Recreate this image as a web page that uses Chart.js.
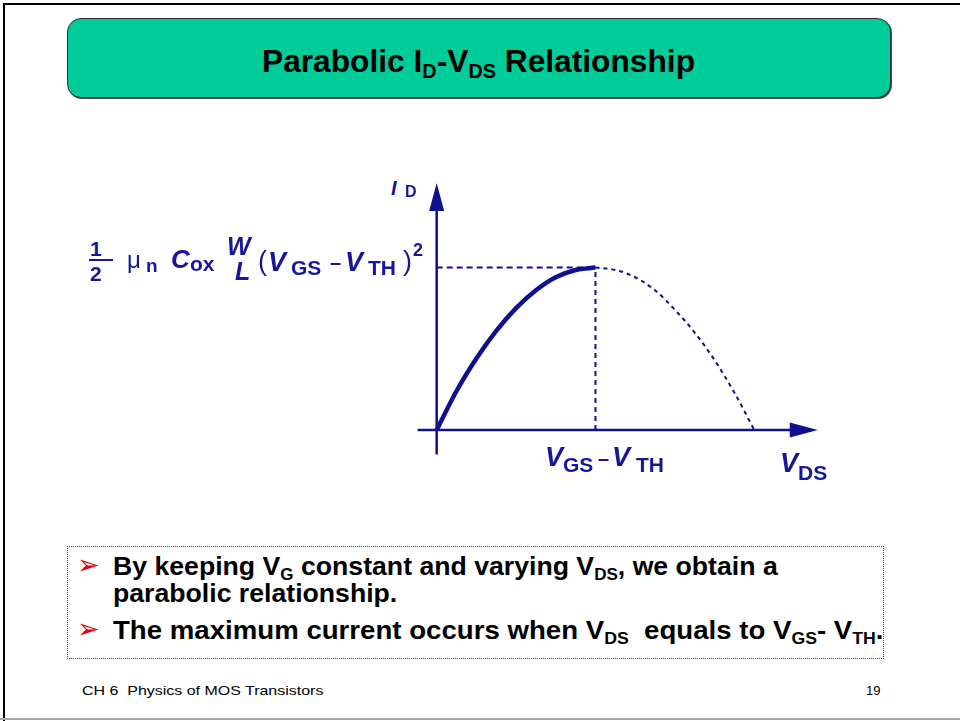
<!DOCTYPE html>
<html>
<head>
<meta charset="utf-8">
<script src="https://cdn.jsdelivr.net/npm/chart.js@4"></script>
<style>
  body { margin: 0; background: #fff; }
  #page { position: relative; width: 960px; height: 721px; overflow: hidden; font-family: "Liberation Sans", Arial, sans-serif; }
  #frameTop { position: absolute; left: 3px; top: 3px; width: 960px; height: 2px; background: #000; }
  #frameLeft { position: absolute; left: 3px; top: 3px; width: 2px; height: 721px; background: #000; }
  #frameBottom { position: absolute; left: 0; top: 718px; width: 960px; height: 2px; background: #a8a8a8; }
  #titleBox { position: absolute; left: 67px; top: 18px; width: 822px; height: 78px; background: #00cc99;
              border: 1px solid #333; border-radius: 14px; box-shadow: 1px 1px 0 #444; }
  #title { position: absolute; left: 0; top: 45px; white-space: nowrap; font-weight: bold; font-size: 32px;
           color: #000; transform-origin: 0 0; line-height: 1; }
  #title sub { font-size: 20px; vertical-align: -6px; line-height: 0; }
  #chartWrap { position: absolute; left: 400px; top: 170px; width: 440px; height: 320px; }
  .lbl { position: absolute; white-space: nowrap; color: #16169a; font-weight: bold; line-height: 1; }
  .it { font-style: italic; }
  #fracBar { position: absolute; left: 89px; top: 259px; width: 24px; height: 2px; background: #16169a; }
  #bullets { position: absolute; left: 67px; top: 546px; width: 815px; height: 111px; border: 1px dotted #444; }
  .bline { position: absolute; white-space: nowrap; font-weight: bold; font-size: 25px; color: #000; line-height: 1; transform-origin: 0 0; }
  .bline sub { font-size: 16px; vertical-align: -5px; line-height: 0; }
  .arrow { position: absolute; color: #e8000b; font-size: 27px; font-family: "DejaVu Sans", sans-serif; line-height: 1; }
  .foot { position: absolute; font-size: 13px; color: #000; white-space: nowrap; line-height: 1; transform-origin: 0 0; }
</style>
</head>
<body>
<div id="page">
  <div id="frameTop"></div><div id="frameLeft"></div><div id="frameBottom"></div>
  <div id="titleBox"></div>
  <div id="title">Parabolic I<sub>D</sub>-V<sub>DS</sub> Relationship</div>

  <div id="chartWrap"><canvas id="chart" width="440" height="320"></canvas></div>
  <div id="labels"></div>
  <div id="fracBar"></div>

  <div id="bullets"></div>
  <div class="arrow" style="left:77px; top:551px;">&#10146;</div>
  <div class="arrow" style="left:77px; top:615px;">&#10146;</div>
  <div class="bline" id="b1" style="left:113px; top:554px;">By keeping V<sub>G</sub> constant and varying V<sub>DS</sub>, we obtain a</div>
  <div class="bline" id="b2" style="left:113px; top:581px;">parabolic relationship.</div>
  <div class="bline" id="b3" style="left:113px; top:618px;">The maximum current occurs when V<sub>DS</sub>&nbsp; equals to V<sub>GS</sub>- V<sub>TH</sub>.</div>

  <div class="foot" id="f1" style="left:82px; top:684px;">CH 6&nbsp; Physics of MOS Transistors</div>
  <div class="foot" style="left:866px; top:684px;">19</div>
</div>

<script>
// I_D vs V_DS (V_DS in units of VGS-VTH, I_D normalised to its peak)
const vdsRise = [0, 0.125, 0.25, 0.375, 0.5, 0.625, 0.75, 0.875, 1.0];
const idRise  = [0, 0.24, 0.44, 0.61, 0.75, 0.86, 0.94, 0.985, 1.0];
const vdsFall = [1.0, 1.125, 1.25, 1.375, 1.5, 1.625, 1.75, 1.875, 2.0];
const idFall  = [1.0, 0.985, 0.94, 0.86, 0.74, 0.6, 0.43, 0.23, 0];

// axis extents (arrow tips)
const xAxisFrom = -0.12, xAxisTo = 2.40;
const yAxisFrom = -0.15, yAxisTo = 1.52;

const navy = '#10108c';

function toPoints(xs, ys) {
    return xs.map((x, i) => ({ x: x, y: ys[i] }));
}

const vPeak = vdsRise[vdsRise.length - 1];
const iPeak = idRise[idRise.length - 1];

// draws both axes with arrowheads, behind the curves
const axesPlugin = {
    id: 'axesArrows',
    beforeDatasetsDraw(chart) {
        const ctx = chart.ctx;
        const xs = chart.scales.x, ys = chart.scales.y;
        const x0 = xs.getPixelForValue(0), y0 = ys.getPixelForValue(0);
        const xa = xs.getPixelForValue(xAxisFrom), xb = xs.getPixelForValue(xAxisTo);
        const ya = ys.getPixelForValue(yAxisFrom), yb = ys.getPixelForValue(yAxisTo);
        ctx.save();
        ctx.strokeStyle = navy;
        ctx.fillStyle = navy;
        ctx.lineWidth = 2.5;
        ctx.beginPath();
        ctx.moveTo(xa, y0); ctx.lineTo(xb - 20, y0);
        ctx.moveTo(x0, ya); ctx.lineTo(x0, yb + 20);
        ctx.stroke();
        // x arrow
        ctx.beginPath();
        ctx.moveTo(xb, y0); ctx.lineTo(xb - 28, y0 - 7.5); ctx.lineTo(xb - 28, y0 + 7.5); ctx.closePath();
        ctx.fill();
        // y arrow
        ctx.beginPath();
        ctx.moveTo(x0, yb); ctx.lineTo(x0 - 7.5, yb + 28); ctx.lineTo(x0 + 7.5, yb + 28); ctx.closePath();
        ctx.fill();
        ctx.restore();
    }
};

new Chart(document.getElementById('chart'), {
    type: 'scatter',
    data: {
        datasets: [
            {
                data: toPoints([0, vPeak], [iPeak, iPeak]),
                showLine: true, borderColor: navy, borderWidth: 2, borderDash: [6, 4],
                pointRadius: 0
            },
            {
                data: toPoints([vPeak, vPeak], [0, iPeak]),
                showLine: true, borderColor: navy, borderWidth: 2, borderDash: [5, 4],
                pointRadius: 0
            },
            {
                data: toPoints(vdsFall, idFall),
                showLine: true, borderColor: navy, borderWidth: 2, borderDash: [4, 4],
                pointRadius: 0, cubicInterpolationMode: 'monotone'
            },
            {
                data: toPoints(vdsRise, idRise),
                showLine: true, borderColor: navy, borderWidth: 4.5,
                pointRadius: 0, cubicInterpolationMode: 'monotone', borderCapStyle: 'butt'
            }
        ]
    },
    options: {
        responsive: false,
        animation: false,
        layout: { padding: 0 },
        plugins: { legend: { display: false }, tooltip: { enabled: false } },
        scales: {
            x: { type: 'linear', min: -0.231, max: 2.540, display: false },
            y: { type: 'linear', min: -0.369, max: 1.6, display: false }
        }
    },
    plugins: [axesPlugin]
});

// text pieces placed by left edge and baseline
function put(txt, x, base, size, italic, weight) {
    const d = document.createElement('div');
    d.className = 'lbl' + (italic ? ' it' : '');
    d.textContent = txt;
    d.style.fontSize = size + 'px';
    d.style.left = x + 'px';
    d.style.top = (base - 0.8465 * size) + 'px';
    if (weight) d.style.fontWeight = weight;
    document.getElementById('labels').appendChild(d);
}

// formula at the peak level
put('1', 90, 256, 21);
put('2', 90, 281, 21);
put('\u03bc', 127, 268, 24, false, 'normal');
put('n', 146, 272, 19);
put('C', 171, 268, 26, true);
put('ox', 190, 271, 21);
put('W', 227, 255, 25, true);
put('L', 235, 280, 25, true);
put('(', 258, 271, 27, false, 'normal');
put('V', 268, 272, 27, true);
put('GS', 291, 275, 21);
put('\u2013', 330, 269, 20);
put('V', 345, 272, 27, true);
put('TH', 368, 275, 21);
put(')', 403, 271, 27, false, 'normal');
put('2', 413, 256, 18);

// axis labels
put('I', 391, 195, 20, true);
put('D', 405, 198, 16);
put('V', 545, 467, 27, true);
put('GS', 563, 472, 21);
put('\u2013', 598, 465, 20);
put('V', 612, 467, 27, true);
put('TH', 636, 472, 21);
put('V', 780, 473, 27, true);
put('DS', 798, 480, 21);

// squeeze text to the widths seen on the slide
const t = document.getElementById('title');
t.style.transform = 'scaleX(' + (433 / t.scrollWidth) + ')';
t.style.left = '262px';
const b1 = document.getElementById('b1');
const bScale = 665 / b1.scrollWidth;
['b1', 'b2'].forEach(id => {
    document.getElementById(id).style.transform = 'scaleX(' + bScale + ')';
});
const b3 = document.getElementById('b3');
b3.style.transform = 'scaleX(' + (770 / b3.scrollWidth) + ')';
const f1 = document.getElementById('f1');
f1.style.transform = 'scaleX(' + (242 / f1.scrollWidth) + ')';
</script>
</body>
</html>
